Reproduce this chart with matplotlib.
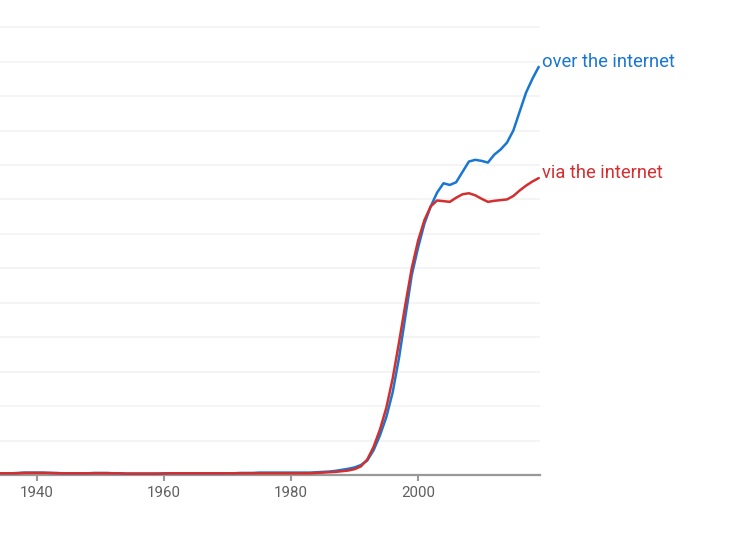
import matplotlib
matplotlib.use("Agg")
import matplotlib.pyplot as plt

plt.rcParams['font.family'] = ['Roboto', 'DejaVu Sans']

# values in grid units (the y labels are off-screen in the reference)
years = list(range(1934, 2020))

over_the_internet = [
    0.05, 0.05, 0.05, 0.06, 0.07, 0.07, 0.07, 0.07, 0.06, 0.06,  # 1934-1943
    0.05, 0.05, 0.05, 0.05, 0.05, 0.06, 0.06, 0.06, 0.05, 0.05,  # 1944-1953
    0.04, 0.04, 0.04, 0.04, 0.04, 0.04, 0.05, 0.05, 0.05, 0.05,  # 1954-1963
    0.05, 0.05, 0.05, 0.05, 0.05, 0.05, 0.05, 0.05, 0.06, 0.06,  # 1964-1973
    0.06, 0.07, 0.07, 0.07, 0.07, 0.07, 0.07, 0.07, 0.07, 0.07,  # 1974-1983
    0.08, 0.09, 0.10, 0.12, 0.15, 0.18, 0.22, 0.29, 0.42, 0.72,  # 1984-1993
    1.15, 1.68, 2.40, 3.40, 4.60, 5.80, 6.60, 7.30, 7.80, 8.20,  # 1994-2003
    8.47, 8.42, 8.50, 8.80, 9.10, 9.15, 9.12, 9.07, 9.30, 9.45,  # 2004-2013
    9.65, 10.00, 10.55, 11.10, 11.50, 11.85,                     # 2014-2019
]

via_the_internet = [
    0.05, 0.05, 0.05, 0.05, 0.06, 0.06, 0.06, 0.06, 0.06, 0.05,  # 1934-1943
    0.05, 0.05, 0.05, 0.05, 0.05, 0.05, 0.05, 0.05, 0.05, 0.05,  # 1944-1953
    0.04, 0.04, 0.04, 0.04, 0.04, 0.04, 0.04, 0.05, 0.05, 0.05,  # 1954-1963
    0.05, 0.05, 0.05, 0.05, 0.05, 0.05, 0.05, 0.05, 0.05, 0.05,  # 1964-1973
    0.05, 0.05, 0.05, 0.05, 0.05, 0.05, 0.05, 0.05, 0.05, 0.05,  # 1974-1983
    0.06, 0.07, 0.08, 0.09, 0.11, 0.13, 0.17, 0.25, 0.45, 0.82,  # 1984-1993
    1.32, 1.95, 2.80, 3.85, 4.95, 6.00, 6.80, 7.40, 7.80, 7.97,  # 1994-2003
    7.95, 7.93, 8.05, 8.15, 8.18, 8.12, 8.02, 7.93, 7.96, 7.98,  # 2004-2013
    8.00, 8.10, 8.26, 8.40, 8.52, 8.62,                          # 2014-2019
]

series = [
    ("over the internet", over_the_internet, "#1976d2"),
    ("via the internet", via_the_internet, "#d32f2f"),
]

fig = plt.figure(figsize=(7.5, 5.45), dpi=100)
ax = fig.add_axes([0, 70 / 545, 540 / 750, 475 / 545])

for name, vals, color in series:
    ax.plot(years, vals, color=color, lw=1.8, solid_capstyle='round',
            solid_joinstyle='round', zorder=3)
    ax.annotate(name, xy=(years[-1], vals[-1]), xytext=(3, 5),
                textcoords='offset pixels', color=color, fontsize=13.2,
                va='center', ha='left', annotation_clip=False)

ax.set_xlim(1934.17, 2019.2)
ax.set_ylim(0, 13.79)

ax.set_yticks(range(1, 14))
ax.yaxis.grid(True, color='#f2f2f2', lw=1.2)
ax.tick_params(axis='y', left=False, labelleft=False)

ax.set_xticks([1940, 1960, 1980, 2000])
ax.tick_params(axis='x', colors='#999999', length=4, width=1.5, labelcolor='#5f5f5f',
               labelsize=10.8, pad=4)

for s in ['top', 'right', 'left']:
    ax.spines[s].set_visible(False)
ax.spines['bottom'].set_color('#999999')
ax.spines['bottom'].set_linewidth(1.6)
ax.set_axisbelow(True)

fig.savefig('out.png', dpi=100)
